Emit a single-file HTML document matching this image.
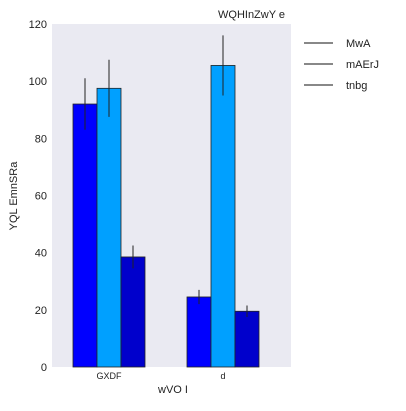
<!DOCTYPE html>
<html><head><meta charset="utf-8"><style>
body{margin:0;background:#fff;}
svg text{font-family:"Liberation Sans","DejaVu Sans",sans-serif;fill:#222;}
</style></head><body>
<svg id="c" width="406" height="406" xmlns="http://www.w3.org/2000/svg">
<rect x="52" y="24" width="239" height="343" fill="#eaeaf2"/>
<g id="bars"></g>
<g id="yticks"></g>
<g id="xticks"></g>
<text x="218" y="18" font-size="11">WQHInZwY e</text>
<text x="173" y="393" font-size="11" text-anchor="middle">wVO I</text>
<text x="17" y="196" font-size="11" text-anchor="middle" transform="rotate(-90 17 196)">YQL EmnSRa</text>
<g id="legend"></g>
</svg>
<script>
const categories=["GXDF","d"];
const seriesNames=["MwA","mAErJ","tnbg"];
const seriesColors=["#0000ff","#00a0ff","#0000cc"];
const valuesA=[92,24.5];
const valuesB=[97.5,105.5];
const valuesC=[38.5,19.5];
const errA=[9,2.5];
const errB=[10,10.5];
const errC=[4,2];
const yTicks=[0,20,40,60,80,100,120];
const NS="http://www.w3.org/2000/svg";
const y0=367,yTop=24,yMax=120;
function yS(v){return y0-(v/yMax)*(y0-yTop);}
const groupCenters=[109,223],bw=24;
function xS(gi,si){return groupCenters[gi]-1.5*bw+si*bw;}
function mk(t,a,p){const e=document.createElementNS(NS,t);for(const k in a)e.setAttribute(k,a[k]);p.appendChild(e);return e;}
const vals=[valuesA,valuesB,valuesC],errs=[errA,errB,errC];
const gb=document.getElementById('bars');
for(let s=0;s<3;s++)for(let g=0;g<categories.length;g++){
 const x=xS(g,s),y=yS(vals[s][g]);
 const r=mk('rect',{x:x,y:y,width:bw,height:y0-y,fill:seriesColors[s],stroke:'#222','stroke-width':0.8},gb);
 
 
 const l=mk('line',{x1:x+bw/2,x2:x+bw/2,y1:yS(vals[s][g]-errs[s][g]),y2:yS(vals[s][g]+errs[s][g]),stroke:'#222','stroke-width':1},gb);
 
 
}
const yt=document.getElementById('yticks');
yTicks.forEach(v=>{const t=mk('text',{x:47,y:yS(v)+4,'font-size':11,'text-anchor':'end'},yt);t.textContent=v;

});
const xt=document.getElementById('xticks');
categories.forEach((c,i)=>{const t=mk('text',{x:groupCenters[i],y:379,'font-size':9,'text-anchor':'middle'},xt);t.textContent=c;

});
const lg=document.getElementById('legend');
seriesNames.forEach((n,i)=>{const y=43+i*21;
 const l=mk('line',{x1:304,x2:333,y1:y,y2:y,stroke:'#111','stroke-width':1},lg);
 
 
 const t=mk('text',{x:346,y:y+4,'font-size':11},lg);t.textContent=n;
 
 });
</script>
</body></html>
